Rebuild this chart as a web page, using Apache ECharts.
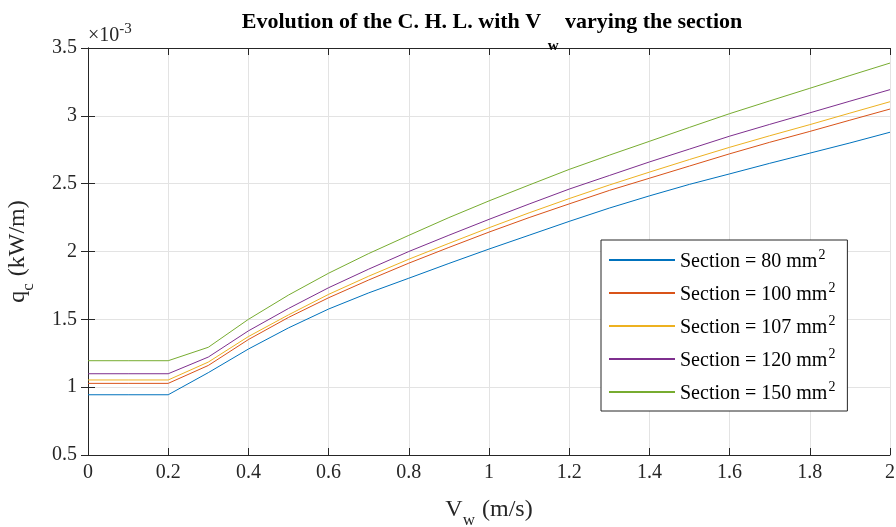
<!DOCTYPE html>
<html><head><meta charset="utf-8">
<script src="https://cdn.jsdelivr.net/npm/echarts@6/dist/echarts.min.js"></script>
<style>html,body{margin:0;padding:0;background:#fff}#c{width:896px;height:527px}</style>
</head><body><div id="c"></div>
<script>
var vw = [0,0.1,0.2,0.3,0.4,0.5,0.6,0.7,0.8,0.9,1.0,1.1,1.2,1.3,1.4,1.5,1.6,1.7,1.8,1.9,2.0];
var s80  = [0.944,0.944,0.944,1.107,1.281,1.437,1.576,1.695,1.803,1.912,2.018,2.120,2.222,2.320,2.410,2.495,2.572,2.650,2.725,2.800,2.879];
var s100 = [1.028,1.028,1.028,1.160,1.351,1.514,1.659,1.790,1.914,2.030,2.143,2.250,2.351,2.450,2.540,2.630,2.720,2.805,2.885,2.968,3.050];
var s107 = [1.053,1.053,1.053,1.185,1.373,1.533,1.684,1.818,1.943,2.060,2.175,2.285,2.390,2.490,2.585,2.678,2.768,2.853,2.935,3.020,3.104];
var s120 = [1.099,1.099,1.099,1.222,1.415,1.580,1.733,1.870,2.000,2.120,2.237,2.350,2.460,2.560,2.660,2.755,2.850,2.937,3.022,3.108,3.193];
var s150 = [1.195,1.195,1.195,1.294,1.500,1.679,1.840,1.985,2.119,2.250,2.373,2.490,2.605,2.710,2.812,2.915,3.016,3.110,3.203,3.297,3.389];
var sectionNames = ['80','100','107','120','150'];
var colors = ['#0072BD','#D95319','#EDB120','#7E2F8E','#77AC30'];
var allSeries = [s80,s100,s107,s120,s150];

var FONT = 'Liberation Serif';
var AX = '#262626';
function pairs(ys){ return vw.map(function(x,i){ return [x, ys[i]]; }); }

var series = allSeries.map(function(ys, i){
  return {
    name: 'Section = ' + sectionNames[i] + ' mm',
    type: 'line', data: pairs(ys), symbol: 'none', showSymbol: false,
    lineStyle: {width: 1, color: colors[i]}, itemStyle: {color: colors[i]},
    animation: false
  };
});

var chart = echarts.init(document.getElementById('c'), null, {renderer: 'canvas'});
chart.setOption({
  animation: false,
  backgroundColor: '#fff',
  title: {
    text: '{b|Evolution of the C. H. L. with V }{s|w}{b| varying the section}',
    left: 487, top: 6, textAlign: 'center',
    textStyle: {
      rich: {
        b: {fontFamily: FONT, fontWeight: 'bold', fontSize: 22, color: '#000', lineHeight: 30, verticalAlign: 'top'},
        s: {fontFamily: FONT, fontWeight: 'bold', fontSize: 15, color: '#000', lineHeight: 30, verticalAlign: 'top', padding: [28,1,0,1]}
      }
    }
  },
  grid: {left: 88, right: 6, top: 48, bottom: 72, containLabel: false, outerBoundsMode: 'none'},
  legend: {
    orient: 'vertical', left: 601, top: 240,
    padding: [8, 12, 7, 7],
    itemGap: 9,
    itemWidth: 66, itemHeight: 2,
    backgroundColor: '#fff', borderColor: AX, borderWidth: 1,
    data: series.map(function(s){ return s.name; }),
    formatter: function(n){ return '{t|' + n + '}{p|2}'; },
    textStyle: {
      rich: {
        t: {fontFamily: FONT, fontSize: 20, color: '#000', lineHeight: 24, verticalAlign: 'bottom'},
        p: {fontFamily: FONT, fontSize: 14, color: '#000', lineHeight: 24, verticalAlign: 'top', padding: [0,0,8,1]}
      }
    }
  },
  xAxis: [{
    type: 'value', min: 0, max: 2, interval: 0.2,
    name: '{t|V}{s|w}{t| (m/s)}', nameLocation: 'middle', nameGap: 43,
    nameTextStyle: {rich: {
      t: {fontFamily: FONT, fontSize: 24, color: '#262626', lineHeight: 30, verticalAlign: 'top'},
      s: {fontFamily: FONT, fontSize: 17, color: '#262626', lineHeight: 30, verticalAlign: 'top', padding: [14,1,0,0]}
    }},
    axisLine: {show: true, lineStyle: {color: AX, width: 1}},
    axisTick: {show: true, inside: true, length: 7, lineStyle: {color: AX}},
    axisLabel: {fontFamily: FONT, fontSize: 20, color: '#262626', margin: 8},
    splitLine: {show: true, lineStyle: {color: '#e3e3e3', width: 1}}
  }, {
    type: 'value', position: 'top', min: 0, max: 2, interval: 0.2,
    axisLine: {show: true, lineStyle: {color: AX, width: 1}},
    axisTick: {show: true, inside: true, length: 7, lineStyle: {color: AX}},
    axisLabel: {show: false}, splitLine: {show: false}
  }],
  yAxis: [{
    type: 'value', min: 0.5, max: 3.5, interval: 0.5,
    name: '{t|q}{s|c}{t| (kW/m)}', nameLocation: 'middle', nameGap: 52, nameRotate: 90,
    nameTextStyle: {rich: {
      t: {fontFamily: FONT, fontSize: 24, color: '#262626', lineHeight: 30, verticalAlign: 'top'},
      s: {fontFamily: FONT, fontSize: 17, color: '#262626', lineHeight: 30, verticalAlign: 'top', padding: [14,1,0,0]}
    }},
    axisLine: {show: true, lineStyle: {color: AX, width: 1}},
    axisTick: {show: true, inside: true, length: 7, lineStyle: {color: AX}},
    axisLabel: {fontFamily: FONT, fontSize: 20, color: '#262626', margin: 11},
    splitLine: {show: true, lineStyle: {color: '#e3e3e3', width: 1}}
  }, {
    type: 'value', position: 'right', min: 0.5, max: 3.5, interval: 0.5,
    axisLine: {show: true, lineStyle: {color: AX, width: 1}},
    axisTick: {show: true, inside: true, length: 7, lineStyle: {color: AX}},
    axisLabel: {show: false}, splitLine: {show: false}
  }],
  graphic: [{
    type: 'text', left: 88, top: 22,
    style: {
      text: '{t|×10}{p|-3}',
      rich: {
        t: {fontFamily: FONT, fontSize: 20, fill: '#262626', lineHeight: 24, verticalAlign: 'bottom'},
        p: {fontFamily: FONT, fontSize: 15, fill: '#262626', lineHeight: 24, verticalAlign: 'top', padding: [0,0,8,0]}
      }
    }
  }],
  series: series
});
</script></body></html>
